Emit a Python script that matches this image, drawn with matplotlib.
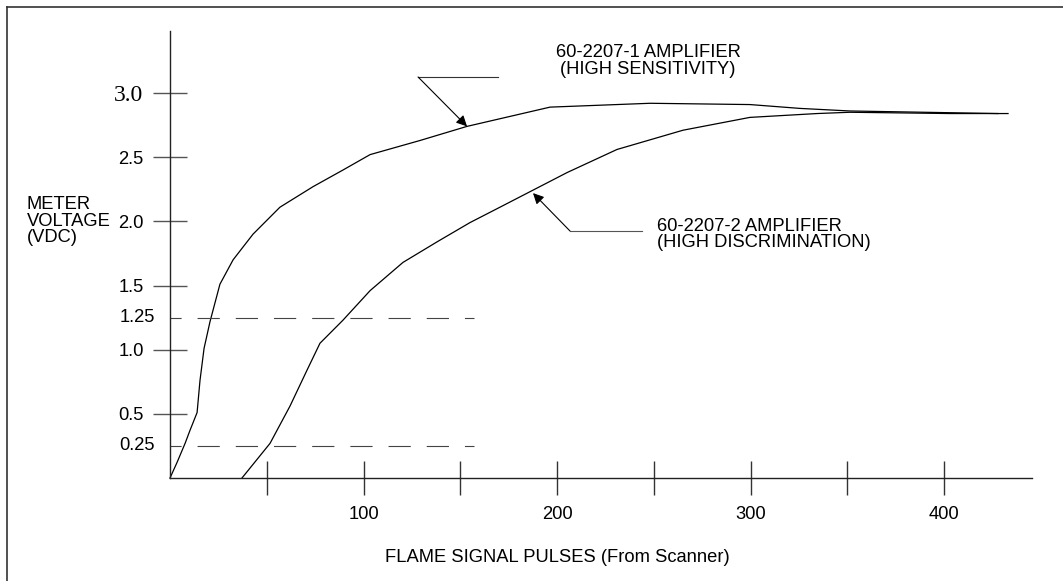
import matplotlib
matplotlib.use("Agg")
import matplotlib.pyplot as plt
from matplotlib.lines import Line2D
from matplotlib import font_manager

# the drawing uses a narrow sans; fall back to the normal width if missing
try:
    font_manager.findfont('Liberation Sans Narrow', fallback_to_default=False)
    sans = ['Liberation Sans Narrow', 'Liberation Sans', 'DejaVu Sans']
    fs = 15.5
except ValueError:
    sans = ['Liberation Sans', 'DejaVu Sans']
    fs = 13.2

plt.rcParams['font.family'] = sans
plt.rcParams['lines.scale_dashes'] = False

# curve readings (pulses, volts)
hs_pulses = [0, 3.6, 7.8, 10.3, 14.0, 15.5, 17.6, 20.7, 25.8, 32.6, 42.9, 56.8, 73.9,
             89.4, 103.4, 129.2, 153.5, 196.4, 248.1, 299.7, 325.6, 351.4, 427.9]
hs_volts = [0, 0.12, 0.27, 0.37, 0.51, 0.76, 1.01, 1.22, 1.51, 1.70, 1.90, 2.11, 2.27,
            2.40, 2.52, 2.63, 2.74, 2.89, 2.92, 2.91, 2.88, 2.86, 2.84]

hd_pulses = [37.2, 51.7, 62.0, 70.8, 77.5, 89.4, 103.4, 120.4, 138.0, 155.0, 170.5,
             205.2, 231.0, 265.1, 299.7, 334.4, 351.4, 403.1, 433.1]
hd_volts = [0, 0.27, 0.56, 0.84, 1.05, 1.23, 1.46, 1.68, 1.84, 1.99, 2.11,
            2.38, 2.56, 2.71, 2.81, 2.84, 2.85, 2.84, 2.84]

# axis ticks
y_ticks = [0.5, 1.0, 1.5, 2.0, 2.5, 3.0]
y_tick_labels = ['0.5', '1.0', '1.5', '2.0', '2.5', '3.0']
x_ticks = [50, 100, 150, 200, 250, 300, 350, 400]
x_tick_labels = ['', '100', '', '200', '', '300', '', '400']

# threshold levels (dashed reference lines)
ref_levels = [0.25, 1.25]
ref_labels = ['0.25', '1.25']
ref_end = 157

W, H = 1063, 581
fig = plt.figure(figsize=(W / 100, H / 100), dpi=100)
ax = fig.add_axes([170 / W, (H - 478) / H, (1032 - 170) / W, (478 - 31) / H])

ax.set_xlim(0, 862 / 1.935)
ax.set_ylim(0, 447 / 128.33)
for s in ['top', 'right']:
    ax.spines[s].set_visible(False)
for s in ['left', 'bottom']:
    ax.spines[s].set_color('#222222')
    ax.spines[s].set_linewidth(1.0)

ax.set_yticks(y_ticks, y_tick_labels, fontsize=fs)
ax.set_xticks(x_ticks, x_tick_labels, fontsize=fs)
ax.tick_params(axis='y', direction='inout', length=24, width=1.0, color='#555555', pad=7)
ax.tick_params(axis='x', direction='inout', length=24, width=1.0, color='#333333', pad=8)
ax.get_yticklabels()[-1].set_fontfamily(['Liberation Serif', 'DejaVu Serif'])
ax.get_yticklabels()[-1].set_fontsize(17)

# the two amplifier curves
ax.plot(hs_pulses, hs_volts, color='black', lw=0.9, clip_on=False, solid_joinstyle='round')
ax.plot(hd_pulses, hd_volts, color='black', lw=0.9, clip_on=False, solid_joinstyle='round')

# dashed reference lines
for lvl, lab in zip(ref_levels, ref_labels):
    ax.plot([0, ref_end], [lvl, lvl], color='#444444', lw=0.8,
            linestyle=(8, (16, 11.5)))
    ax.text(-8.0, lvl, lab, ha='right', va='center', fontsize=fs)

# axis titles
ax.text(-74, 2.0, 'METER\nVOLTAGE\n(VDC)', ha='left', va='center', fontsize=fs,
        linespacing=0.95)
ax.text(200, -0.62, 'FLAME SIGNAL PULSES (From Scanner)', ha='center', va='center',
        fontsize=fs)

# callouts
ax.plot([128.2, 169.5], [3.125, 3.125], color='#333333', lw=0.8, clip_on=False)
ax.annotate('', xy=(153.5, 2.74), xytext=(128.2, 3.125),
            arrowprops=dict(arrowstyle='-|>', color='black', lw=0.8,
                            mutation_scale=16, shrinkA=0, shrinkB=0))
ax.text(247, 3.25, '60-2207-1 AMPLIFIER\n(HIGH SENSITIVITY)', ha='center', va='center',
        fontsize=fs, linespacing=0.95, clip_on=False)

ax.plot([206.7, 243.9], [1.925, 1.925], color='#555555', lw=0.8)
ax.annotate('', xy=(187.6, 2.22), xytext=(206.7, 1.925),
            arrowprops=dict(arrowstyle='-|>', color='black', lw=0.8,
                            mutation_scale=16, shrinkA=0, shrinkB=0))
ax.text(251.7, 1.90, '60-2207-2 AMPLIFIER\n(HIGH DISCRIMINATION)', ha='left', va='center',
        fontsize=fs, linespacing=0.9)

# page frame (top and left edges only)
fig.add_artist(Line2D([7 / W, 1], [1 - 7 / H, 1 - 7 / H], color='#333333', lw=1.2))
fig.add_artist(Line2D([7 / W, 7 / W], [0, 1 - 7 / H], color='#333333', lw=1.2))

fig.savefig('out.png', dpi=100)
